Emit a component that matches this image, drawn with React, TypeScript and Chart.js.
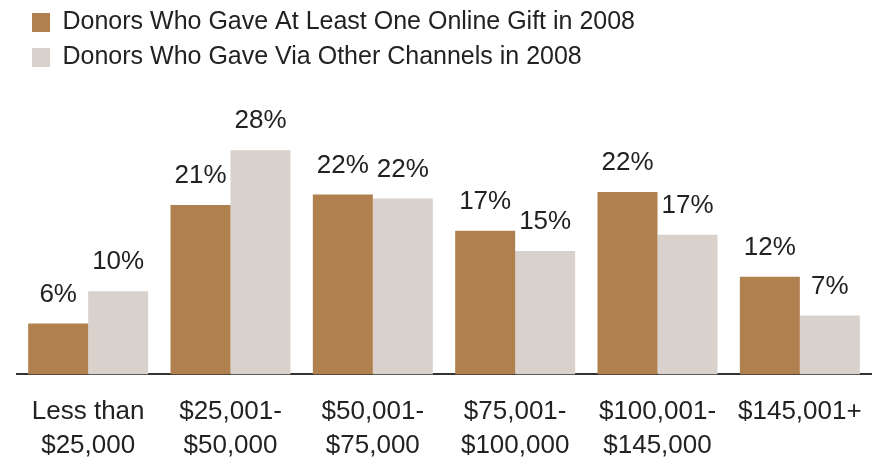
import React, { useEffect, useRef } from "react";
import { Chart, registerables } from "chart.js";

Chart.register(...registerables);

const categories: (string | string[])[] = [
  ["Less than", "$25,000"],
  ["$25,001-", "$50,000"],
  ["$50,001-", "$75,000"],
  ["$75,001-", "$100,000"],
  ["$100,001-", "$145,000"],
  ["$145,001+"],
];

const seriesNames = [
  "Donors Who Gave At Least One Online Gift in 2008",
  "Donors Who Gave Via Other Channels in 2008",
];

// bar heights
const onlineValues = [6.3, 21.0, 22.3, 17.8, 22.6, 12.1];
const otherValues = [10.3, 27.8, 21.8, 15.3, 17.3, 7.3];

// printed labels
const onlineLabels = [6, 21, 22, 17, 22, 12];
const otherLabels = [10, 28, 22, 15, 17, 7];

const colors = ["#B0804F", "#D9D1CC"];
const textColor = "#222222";
const FONT = "'Liberation Sans', Arial, sans-serif";

const valueLabelPlugin = {
  id: "valueLabels",
  afterDatasetsDraw(chart: any) {
    const ctx = chart.ctx;
    const lbls = [onlineLabels, otherLabels];
    ctx.save();
    ctx.font = `26px ${FONT}`;
    ctx.fillStyle = textColor;
    ctx.textAlign = "center";
    ctx.textBaseline = "alphabetic";
    chart.data.datasets.forEach((_ds: any, di: number) => {
      const meta = chart.getDatasetMeta(di);
      meta.data.forEach((el: any, i: number) => {
        ctx.fillText(`${lbls[di][i]}%`, el.x, el.y - 22);
      });
    });
    ctx.restore();
  },
};

const legendShiftPlugin = {
  id: "legendShift",
  afterLayout(chart: any) {
    if (chart.legend) {
      chart.legend.left += 5;
      chart.legend.right += 5;
    }
  },
};

export default function App() {
  const ref = useRef<HTMLCanvasElement | null>(null);

  useEffect(() => {
    if (!ref.current) return;
    const chart = new Chart(ref.current, {
      type: "bar",
      data: {
        labels: categories,
        datasets: [
          {
            label: seriesNames[0],
            data: onlineValues,
            backgroundColor: colors[0],
            borderWidth: 0,
            barPercentage: 1,
            categoryPercentage: 0.843,
          },
          {
            label: seriesNames[1],
            data: otherValues,
            backgroundColor: colors[1],
            borderWidth: 0,
            barPercentage: 1,
            categoryPercentage: 0.843,
          },
        ],
      },
      options: {
        responsive: false,
        animation: false,
        layout: { padding: { left: 17, right: 5, top: 0, bottom: -6 } },
        plugins: {
          legend: {
            position: "top",
            align: "start",
            labels: {
              boxWidth: 18,
              boxHeight: 19,
              padding: 10,
              color: textColor,
              font: { family: FONT, size: 25 },
            },
          },
          tooltip: { enabled: false },
        },
        scales: {
          x: {
            grid: {
              display: true,
              drawOnChartArea: false,
              drawTicks: true,
              tickLength: 18,
              color: "rgba(0,0,0,0)",
              tickColor: "rgba(0,0,0,0)",
            },
            border: { display: true, color: "#333333", width: 2 },
            ticks: {
              color: textColor,
              padding: 3,
              maxRotation: 0,
              autoSkip: false,
              font: { family: FONT, size: 26, lineHeight: 1.3 },
            },
          },
          y: {
            display: false,
            min: 0,
            max: 36.5,
          },
        },
      },
      plugins: [valueLabelPlugin, legendShiftPlugin],
    });
    return () => chart.destroy();
  }, []);

  return (
    <div style={{ position: "absolute", left: 0, top: 0, width: 876, height: 460, background: "#fff" }}>
      <canvas ref={ref} width={876} height={460} style={{ display: "block" }} />
    </div>
  );
}
